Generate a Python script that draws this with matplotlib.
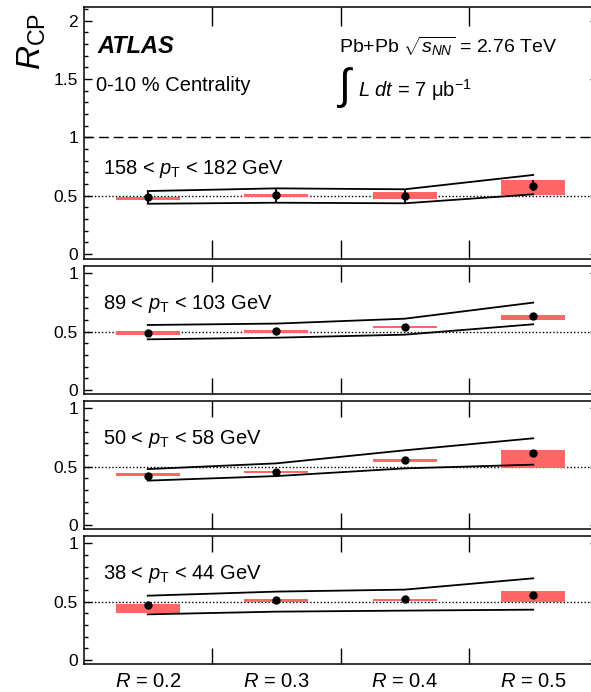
import matplotlib
matplotlib.use('Agg')
import matplotlib.pyplot as plt
import matplotlib.transforms as mtransforms
from matplotlib.ticker import MultipleLocator, FuncFormatter
import numpy as np

plt.rcParams['font.family'] = ['Liberation Sans', 'DejaVu Sans']
plt.rcParams['mathtext.fontset'] = 'custom'
plt.rcParams['mathtext.rm'] = 'Liberation Sans'
plt.rcParams['mathtext.it'] = 'Liberation Sans:italic'
plt.rcParams['mathtext.bf'] = 'Liberation Sans:bold'

# jet radius categories
radius_labels = ['0.2', '0.3', '0.4', '0.5']

# pT bins, one per panel (top to bottom)
pt_low = [158, 89, 50, 38]
pt_high = [182, 103, 58, 44]

# R_CP central values
rcp = [
    [0.489, 0.509, 0.497, 0.586],
    [0.491, 0.503, 0.539, 0.637],
    [0.423, 0.457, 0.557, 0.614],
    [0.471, 0.514, 0.526, 0.554],
]
# statistical errors (only visible in the top panel)
stat_err = [
    [0.054, 0.060, 0.060, 0.048],
    [0.0, 0.0, 0.0, 0.0],
    [0.0, 0.0, 0.0, 0.0],
    [0.0, 0.0, 0.0, 0.0],
]
# uncorrelated systematics (red boxes)
sys_lo = [
    [0.466, 0.486, 0.474, 0.506],
    [0.471, 0.488, 0.531, 0.599],
    [0.417, 0.443, 0.539, 0.488],
    [0.406, 0.494, 0.506, 0.500],
]
sys_hi = [
    [0.491, 0.515, 0.532, 0.635],
    [0.505, 0.511, 0.548, 0.642],
    [0.445, 0.462, 0.563, 0.640],
    [0.477, 0.526, 0.526, 0.594],
]
# correlated systematics (black lines)
band_up = [
    [0.540, 0.563, 0.555, 0.678],
    [0.557, 0.569, 0.611, 0.749],
    [0.479, 0.528, 0.640, 0.743],
    [0.551, 0.586, 0.603, 0.700],
]
band_lo = [
    [0.431, 0.440, 0.435, 0.512],
    [0.434, 0.448, 0.474, 0.563],
    [0.380, 0.419, 0.485, 0.517],
    [0.391, 0.414, 0.423, 0.431],
]

W, H = 591, 692
def fx(px):
    return px / W
def fy(py):
    return 1 - py / H

fig = plt.figure(figsize=(W / 100, H / 100), dpi=100)

left = 83.5 / W
width = 514 / W
panels_px = [(6.7, 259.3), (266, 394), (401, 529), (536, 664)]
ylims = [(-0.045, 2.12), (-0.035, 1.063), (-0.035, 1.063), (-0.035, 1.063)]
red = '#ff6666'
x = np.arange(len(radius_labels)) + 0.5

axes = []
for i, (top, bot) in enumerate(panels_px):
    ax = fig.add_axes([left, fy(bot), width, (bot - top) / H])
    axes.append(ax)
    ax.set_xlim(0, 4)
    ax.set_ylim(*ylims[i])

    lo = np.array(sys_lo[i])
    hi = np.array(sys_hi[i])
    ax.bar(x, hi - lo, bottom=lo, width=0.5, color=red, linewidth=0, zorder=1)

    ax.axhline(0.5, color='k', lw=1.0, ls=(0, (1, 1.5)), zorder=0)
    if i == 0:
        ax.axhline(1.0, color='k', lw=1.0, ls=(0, (7, 3.5)), zorder=0)

    ax.plot(x, band_up[i], color='k', lw=1.3, zorder=2)
    ax.plot(x, band_lo[i], color='k', lw=1.3, zorder=2)

    if i == 0:
        ax.errorbar(x, rcp[i], yerr=stat_err[i], fmt='o', color='k', ms=5,
                    elinewidth=1.3, capsize=0, zorder=3)
    else:
        ax.plot(x, rcp[i], 'o', color='k', ms=5, zorder=3)

    ax.text(0.149, 0.69, f'{pt_low[i]} < $p_{{\\mathrm{{T}}}}$ < {pt_high[i]} GeV',
            fontsize=14.5, va='baseline')

    ax.set_xticks([1, 2, 3])
    xlen = 14 if i == 0 else 11.5
    ax.tick_params(axis='x', which='major', direction='in', top=True, bottom=True,
                   length=xlen, width=1, labelbottom=False)
    ax.yaxis.set_major_locator(MultipleLocator(0.5))
    ax.yaxis.set_minor_locator(MultipleLocator(0.1))
    ax.yaxis.set_major_formatter(FuncFormatter(lambda v, _: '%g' % v))
    ax.tick_params(axis='y', which='major', direction='in', left=True, right=True,
                   length=6, width=1, labelsize=12.5, pad=4)
    ax.tick_params(axis='y', which='minor', direction='in', left=True, right=True,
                   length=3, width=1)
    for s in ax.spines.values():
        s.set_linewidth(1.1)

# bottom category labels
trans = mtransforms.blended_transform_factory(axes[-1].transData, fig.transFigure)
for xi, lab in zip(x, radius_labels):
    axes[-1].text(xi, fy(687), f'$R$ = {lab}', transform=trans, ha='center',
                  va='baseline', fontsize=14.5)

# y label
fig.text(fx(32), fy(13), r'$R_{\mathrm{CP}}$', rotation=90, fontsize=24,
         ha='center', va='top')

# annotations in the top panel
fig.text(fx(97), fy(53), 'ATLAS', fontsize=17, weight='bold', style='italic',
         va='baseline')
fig.text(fx(96), fy(91), '0-10 % Centrality', fontsize=14.5, va='baseline')
fig.text(fx(339), fy(53.3), r'Pb+Pb $\sqrt{s_{NN}}$ = 2.76 TeV', fontsize=14,
         va='baseline')
fig.text(fx(338), fy(88), '\u222b', fontsize=31, va='center')
fig.text(fx(358), fy(96.7), r'$L$ $dt$ = 7 μb$^{-1}$', fontsize=14.5, va='baseline')

fig.savefig('out.png', dpi=100)
